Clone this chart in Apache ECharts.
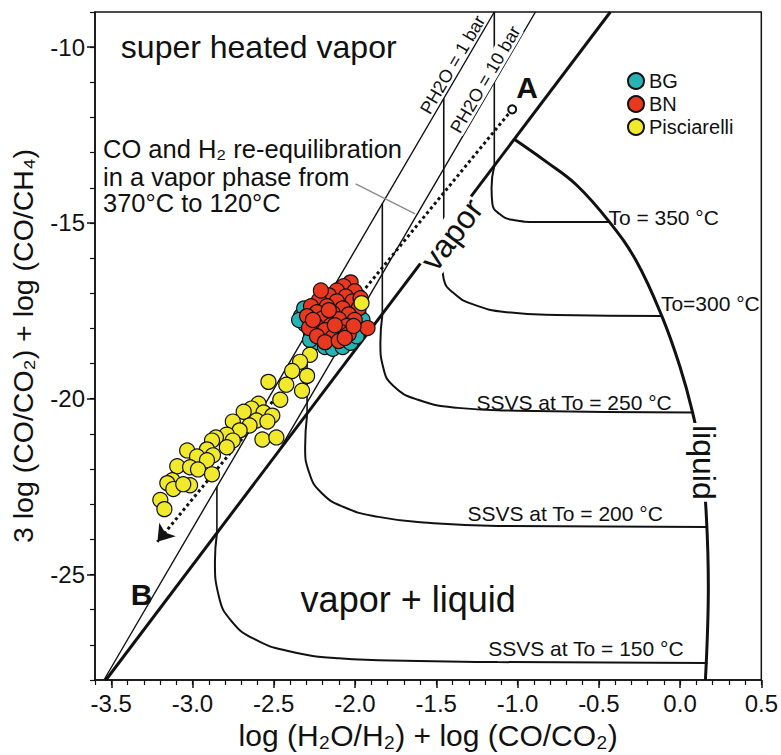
<!DOCTYPE html>
<html><head><meta charset="utf-8">
<script src="https://cdn.jsdelivr.net/npm/echarts@6/dist/echarts.min.js"></script>
<style>html,body{margin:0;padding:0;background:#fff}#c{width:781px;height:755px}</style>
</head><body><div id="c"></div>
<script>
// ---------- axis ticks ----------
const xTickValues = [-3.5, -3.0, -2.5, -2.0, -1.5, -1.0, -0.5, 0.0, 0.5];
const yTickValues = [-25, -20, -15, -10];

// ---------- samples ----------
const bgPoints = [[-2.332,-17.65],[-2.307,-17.88],[-2.313,-17.43],[-2.271,-18.16],[-2.234,-18.39],[-2.185,-18.53],[-2.137,-18.58],[-2.076,-18.53],[-2.027,-18.41],[-1.990,-18.22],[-2.039,-17.14],[-1.978,-17.60],[-2.277,-18.33],[-2.344,-17.76],[-2.100,-17.28],[-1.954,-17.76]];
const bnPoints = [[-2.027,-16.69],[-2.070,-16.80],[-2.112,-16.92],[-2.002,-16.94],[-2.161,-17.06],[-2.057,-17.09],[-2.222,-17.20],[-2.112,-17.23],[-2.015,-17.23],[-2.271,-17.37],[-2.173,-17.37],[-2.076,-17.43],[-1.978,-17.43],[-2.234,-17.54],[-2.137,-17.57],[-2.039,-17.60],[-2.295,-17.65],[-2.198,-17.71],[-2.100,-17.74],[-2.002,-17.76],[-2.246,-17.88],[-2.149,-17.91],[-2.051,-17.93],[-2.283,-17.99],[-2.185,-18.05],[-2.088,-18.10],[-2.234,-18.22],[-2.137,-18.25],[-2.039,-18.16],[-2.185,-18.39],[-2.100,-18.36],[-1.923,-17.99],[-2.210,-16.92],[-1.966,-17.14],[-2.259,-17.76],[-2.063,-18.27],[-2.161,-17.48],[-2.009,-17.93],[-2.124,-17.91]];
const pisciarelliPoints = [[-1.960,-17.28],[-2.277,-18.75],[-2.338,-18.95],[-2.387,-19.21],[-2.295,-19.35],[-2.533,-19.52],[-2.423,-19.60],[-2.326,-19.77],[-2.460,-20.03],[-2.594,-20.14],[-2.637,-20.28],[-2.685,-20.37],[-2.563,-20.39],[-2.509,-20.48],[-2.606,-20.62],[-2.539,-20.65],[-2.752,-20.65],[-2.649,-20.76],[-2.710,-20.90],[-2.789,-21.02],[-2.856,-21.10],[-2.880,-21.19],[-2.752,-21.19],[-2.570,-21.16],[-2.484,-21.10],[-2.789,-21.38],[-2.911,-21.44],[-3.033,-21.47],[-2.972,-21.64],[-2.874,-21.61],[-2.911,-21.75],[-3.094,-21.92],[-3.015,-21.95],[-2.966,-22.01],[-2.880,-22.15],[-3.124,-22.32],[-3.155,-22.40],[-3.118,-22.57],[-3.015,-22.46],[-3.057,-22.43],[-3.198,-22.88],[-3.173,-23.14]];

// ---------- grid lines ----------
const ph2o1bar = [[-3.545,-28],[-1.143,-9]];
const ph2o10bar = [[-2.467,-21.47],[-0.890,-9]];
const vaporBoundary = [[-3.533,-28],[-0.429,-9]];
const liquidCurve = [[-1.02,-12.62],[-0.820,-13.27],[-0.637,-13.92],[-0.435,-14.97],[-0.271,-16.07],[-0.112,-17.65],[-0.002,-19.07],[0.077,-20.39],[0.132,-21.67],[0.162,-23.36],[0.174,-25.34],[0.156,-28]];
const vert350 = [[-1.143,-9],[-1.143,-13.37]];
const vert300 = [[-1.454,-11.46],[-1.454,-15.27]];
const vert250 = [[-1.832,-14.45],[-1.832,-17.62]];
const vert200 = [[-2.295,-18.11],[-2.295,-20.45]];
const vert150 = [[-2.850,-22.50],[-2.850,-23.84]];
const ssvs350 = [[-1.143,-13.37],[-1.160,-14.0],[-1.155,-14.45],[-1.112,-14.74],[-1.033,-14.91],[-0.880,-14.97],[-0.435,-14.97]];
const ssvs300 = [[-1.454,-15.27],[-1.466,-16.09],[-1.454,-16.60],[-1.40,-16.97],[-1.277,-17.31],[-1.063,-17.54],[-0.759,-17.62],[-0.112,-17.65]];
const ssvs250 = [[-1.832,-17.62],[-1.844,-18.41],[-1.826,-19.12],[-1.765,-19.63],[-1.612,-20.03],[-1.368,-20.26],[-1.002,-20.34],[0.077,-20.39]];
const ssvs200 = [[-2.295,-20.45],[-2.307,-21.38],[-2.283,-22.09],[-2.210,-22.66],[-2.070,-23.08],[-1.856,-23.36],[-1.551,-23.53],[-1.124,-23.62],[0.162,-23.65]];
const ssvs150 = [[-2.850,-23.84],[-2.862,-24.63],[-2.838,-25.62],[-2.759,-26.33],[-2.618,-26.84],[-2.405,-27.18],[-2.100,-27.38],[-1.612,-27.46],[-1.124,-27.49],[0.168,-27.52]];
const reequilPath = [[-1.033,-11.77],[-3.216,-24.07]];
const leaderLine = [[-1.996,-13.89],[-1.630,-14.74]];

// ---------- text annotations (anchor in data units) ----------
const noteTexts = ['super heated vapor','CO and H₂ re-equilibration','in a vapor phase from','370°C to 120°C','vapor','liquid','vapor + liquid','To = 350 °C','To=300 °C','SSVS at To = 250 °C','SSVS at To = 200 °C','SSVS at To = 150 °C','PH2O = 1 bar','PH2O = 10 bar','A','B'];
const noteAnchors = [[-3.441,-9.99],[-3.551,-12.90],[-3.551,-13.68],[-3.551,-14.44],[-1.405,-15.33],[0.150,-21.81],[-1.673,-25.71],[-0.441,-14.85],[-0.118,-17.28],[-0.051,-20.11],[-0.106,-23.25],[0.022,-27.09],[-1.399,-10.50],[-1.198,-10.92],[-0.941,-11.15],[-3.313,-25.57]];

const FONT = '"Liberation Sans", Arial, sans-serif';
const INK = '#111';
const noteStyles = [
  {fontSize:32, align:'left', verticalAlign:'middle'},
  {fontSize:25.5, align:'left', verticalAlign:'middle'},
  {fontSize:25.5, align:'left', verticalAlign:'middle'},
  {fontSize:25.5, align:'left', verticalAlign:'middle'},
  {fontSize:32, align:'center', verticalAlign:'middle', rotate:52.8, backgroundColor:'#fff', padding:[0,2]},
  {fontSize:32, align:'center', verticalAlign:'middle', rotate:-90, backgroundColor:'#fff', padding:[0,2]},
  {fontSize:36, align:'center', verticalAlign:'middle'},
  {fontSize:21, align:'left', verticalAlign:'middle'},
  {fontSize:21, align:'left', verticalAlign:'middle'},
  {fontSize:21, align:'right', verticalAlign:'middle'},
  {fontSize:21, align:'right', verticalAlign:'middle'},
  {fontSize:21, align:'right', verticalAlign:'middle'},
  {fontSize:18, align:'center', verticalAlign:'middle', rotate:59.6},
  {fontSize:18, align:'center', verticalAlign:'middle', rotate:59.6, backgroundColor:'#fff'},
  {fontSize:30, align:'center', verticalAlign:'middle', fontWeight:'bold'},
  {fontSize:30, align:'center', verticalAlign:'middle', fontWeight:'bold'}
];

function lineS(data, width, smooth, color, z) {
  return {type:'line', data, showSymbol:false, symbol:'none', smooth: smooth || false,
    lineStyle:{color: color || INK, width}, silent:true, z: z || 2, animation:false};
}
function scatterS(name, data, color) {
  return {type:'scatter', name, data, symbol:'circle', symbolSize:15, z:5,
    itemStyle:{color, borderColor:'#111', borderWidth:1.2, opacity:1}};
}

const chart = echarts.init(document.getElementById('c'), null, {renderer:'svg'});
chart.setOption({
  animation:false,
  backgroundColor:'#fff',
  textStyle:{fontFamily:FONT},
  grid:{left:94, top:12, width:672, height:672, show:true, borderColor:INK, borderWidth:1.5},
  legend:{data:['BG','BN','Pisciarelli'], orient:'vertical', left:622, top:66, icon:'circle',
    itemWidth:16, itemHeight:16, itemGap:3, textStyle:{fontSize:20, color:INK, fontFamily:FONT}},
  xAxis:[
    {type:'value', min:-3.6, max:0.5, position:'bottom',
      axisLine:{show:true, onZero:false, lineStyle:{color:INK, width:1.5}},
      axisTick:{show:true, length:8, customValues:xTickValues, lineStyle:{color:INK, width:1.5}},
      axisLabel:{customValues:xTickValues, formatter:v=>Number(v).toFixed(1), fontSize:24, color:INK, margin:11, fontFamily:FONT},
      splitLine:{show:false},
      name:'log (H₂O/H₂) + log (CO/CO₂)', nameLocation:'middle', nameGap:40,
      nameTextStyle:{fontSize:30, color:INK, fontFamily:FONT}},
    {type:'value', min:-3.6, max:0.5, interval:0.1, position:'bottom',
      axisLine:{show:false, onZero:false}, axisTick:{show:true, length:5, lineStyle:{color:INK, width:1.2}},
      axisLabel:{show:false}, splitLine:{show:false}}
  ],
  yAxis:[
    {type:'value', min:-28, max:-9, position:'left',
      axisLine:{show:true, onZero:false, lineStyle:{color:INK, width:1.5}},
      axisTick:{show:true, length:8, customValues:yTickValues, lineStyle:{color:INK, width:1.5}},
      axisLabel:{customValues:yTickValues, fontSize:24, color:INK, margin:10, fontFamily:FONT},
      splitLine:{show:false},
      name:'3 log (CO/CO₂) + log (CO/CH₄)', nameLocation:'middle', nameGap:58,
      nameTextStyle:{fontSize:28.5, color:INK, fontFamily:FONT}},
    {type:'value', min:-28, max:-9, interval:1, position:'left',
      axisLine:{show:false, onZero:false}, axisTick:{show:true, length:5, lineStyle:{color:INK, width:1.2}},
      axisLabel:{show:false}, splitLine:{show:false}}
  ],
  series:[
    lineS(ph2o1bar, 1.4),
    lineS(ph2o10bar, 1.4),
    lineS(vaporBoundary, 3),
    lineS(liquidCurve, 3, 0.4),
    lineS(vert350, 1.6), lineS(vert300, 1.6), lineS(vert250, 1.6), lineS(vert200, 1.6), lineS(vert150, 1.6),
    lineS(ssvs350, 2, 0.5), lineS(ssvs300, 2, 0.5), lineS(ssvs250, 2, 0.5), lineS(ssvs200, 2, 0.5), lineS(ssvs150, 2, 0.5),
    lineS(leaderLine, 1.3, false, '#8a8a8a'),
    {type:'lines', coordinateSystem:'cartesian2d', silent:true, z:3, animation:false,
      symbol:['none','arrow'], symbolSize:[0,16],
      lineStyle:{color:INK, width:3, type:'dotted', opacity:1},
      data:[{coords:reequilPath}]},
    {type:'scatter', data:[reequilPath[0]], symbol:'circle', symbolSize:8, silent:true, z:4,
      itemStyle:{color:'#fff', borderColor:INK, borderWidth:2, opacity:1}},
    scatterS('BG', bgPoints, '#27b3b4'),
    scatterS('BN', bnPoints, '#e8381f'),
    scatterS('Pisciarelli', pisciarelliPoints, '#f1e92c'),
    {type:'scatter', silent:true, z:6, symbolSize:0, itemStyle:{opacity:1, color:INK},
      data: noteTexts.map((t,i)=>({value:noteAnchors[i],
        label:Object.assign({show:true, position:'inside', formatter:t, color:INK, opacity:1,
          textBorderWidth:0, fontFamily:FONT}, noteStyles[i])}))}
  ]
});
</script></body></html>
